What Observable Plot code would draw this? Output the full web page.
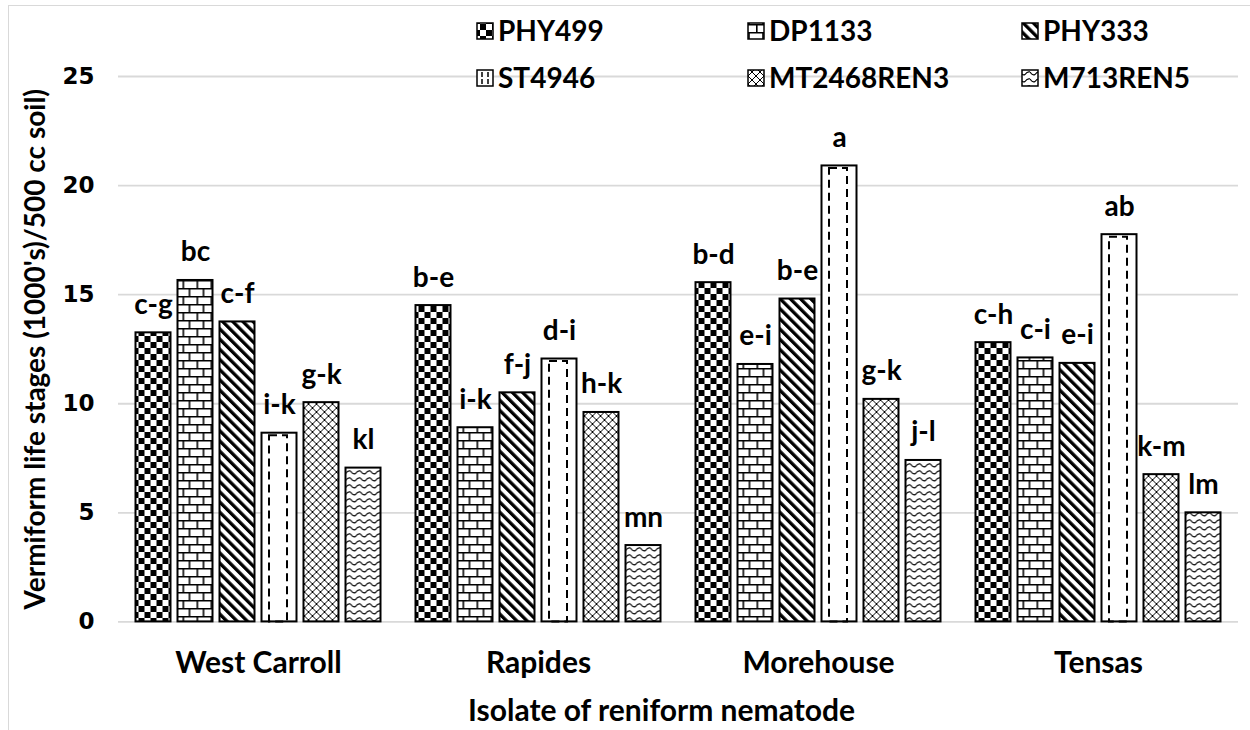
<!DOCTYPE html>
<html>
<head>
<meta charset="utf-8">
<script src="https://cdn.jsdelivr.net/npm/d3@7"></script>
<script src="https://cdn.jsdelivr.net/npm/@observablehq/plot@0.6"></script>
<style>
  html, body { margin: 0; padding: 0; background: #fff; }
  #wrap { position: relative; width: 1250px; height: 730px; overflow: hidden; background: #fff; }
  #border { position: absolute; left: 8px; top: 5px; width: 1400px; height: 900px; border: 1.5px solid #d9d9d9; pointer-events: none; }
  #legend { position: absolute; left: 0; top: 0; }
  g[aria-label="y-axis label"] text { font-family: Lato, sans-serif; font-size: 28px; font-weight: bold; }
  g[aria-label="fx-axis label"] text { font-family: Lato, sans-serif; font-size: 30px; font-weight: bold; }
</style>
</head>
<body>
<div id="wrap">
  <svg id="defs" width="0" height="0" style="position:absolute">
    <defs>
      <pattern id="pat0" patternUnits="userSpaceOnUse" width="12" height="12">
        <rect width="12" height="12" fill="#fff"/>
        <rect x="0" y="0" width="6" height="6" fill="#000"/>
        <rect x="6" y="6" width="6" height="6" fill="#000"/>
      </pattern>
      <pattern id="pat1" patternUnits="userSpaceOnUse" width="14" height="16">
        <rect width="14" height="16" fill="#fff"/>
        <path d="M0,0.8H14M0,8.8H14M7,0V8.8M0.8,8.8V16" stroke="#000" stroke-width="1.6" fill="none"/>
      </pattern>
      <pattern id="pat2" patternUnits="userSpaceOnUse" width="7.2" height="7.2" patternTransform="rotate(-45)">
        <rect width="7.2" height="7.2" fill="#fff"/>
        <rect x="0" y="0" width="3.3" height="7.2" fill="#000"/>
      </pattern>
      <pattern id="pat3" patternUnits="userSpaceOnUse" width="10" height="10">
        <rect width="10" height="10" fill="#fff"/>
      </pattern>
      <pattern id="pat4" patternUnits="userSpaceOnUse" width="8" height="8">
        <rect width="8" height="8" fill="#fff"/>
        <path d="M0,0L8,8M8,0L0,8" stroke="#000" stroke-width="1" fill="none"/>
      </pattern>
      <pattern id="pat5" patternUnits="userSpaceOnUse" width="10" height="7">
        <rect width="10" height="7" fill="#fff"/>
        <path d="M0,2 Q2.5,6 5,4.5 Q7.5,1 10,2" stroke="#000" stroke-width="1.2" fill="none"/>
      </pattern>
    </defs>
  </svg>
  <div id="chart"></div>
  <svg id="legend" width="1250" height="110"></svg>
  <div id="border"></div>
</div>
<script>
// ---- data ----
const groups = ["West Carroll", "Rapides", "Morehouse", "Tensas"];
const cultivars = ["PHY499", "DP1133", "PHY333", "ST4946", "MT2468REN3", "M713REN5"];

const westCarroll = [13.25, 15.65, 13.75, 8.65, 10.05, 7.05];
const rapides     = [14.5, 8.9, 10.5, 12.05, 9.6, 3.5];
const morehouse   = [15.55, 11.8, 14.8, 20.9, 10.2, 7.4];
const tensas      = [12.8, 12.1, 11.85, 17.75, 6.75, 5.0];

const westCarrollLetters = ["c-g", "bc", "c-f", "i-k", "g-k", "kl"];
const rapidesLetters     = ["b-e", "i-k", "f-j", "d-i", "h-k", "mn"];
const morehouseLetters   = ["b-d", "e-i", "b-e", "a", "g-k", "j-l"];
const tensasLetters      = ["c-h", "c-i", "e-i", "ab", "k-m", "lm"];

const yTicks = [0, 5, 10, 15, 20, 25];
const yTitle = "Vermiform life stages (1000's)/500 cc soil)";
const xTitle = "Isolate of reniform nematode";

// ---- table ----
const valuesByGroup = [westCarroll, rapides, morehouse, tensas];
const lettersByGroup = [westCarrollLetters, rapidesLetters, morehouseLetters, tensasLetters];
const rows = [];
groups.forEach((g, gi) => {
  cultivars.forEach((c, ci) => {
    rows.push({group: g, cultivar: c, value: valuesByGroup[gi][ci], letter: lettersByGroup[gi][ci]});
  });
});
const patternUrls = cultivars.map((d, i) => `url(#pat${i})`);
const dashedRows = rows.filter(d => d.cultivar === "ST4946");

const chart = Plot.plot({
  width: 1250,
  height: 730,
  marginLeft: 117.5,
  marginRight: 12,
  marginTop: 76,
  marginBottom: 108.6,
  style: {background: "transparent", overflow: "visible"},
  fx: {domain: groups, padding: 0},
  x: {domain: cultivars, paddingInner: 0.17, paddingOuter: 0.4, axis: null},
  y: {domain: [0, 25]},
  color: {domain: cultivars, range: patternUrls},
  marks: [
    Plot.gridY({ticks: yTicks, stroke: "#d9d9d9", strokeOpacity: 1, strokeWidth: 1.8}),
    Plot.barY(rows, {fx: "group", x: "cultivar", y: "value", fill: "cultivar", stroke: "#000", strokeWidth: 2}),
    // two vertical dashed lines inside the ST4946 bars (sides of an inset dashed outline)
    Plot.barY(dashedRows, {fx: "group", x: "cultivar", y: "value", insetLeft: 7.5, insetRight: 9.5,
      insetTop: 2.5, fill: "none", stroke: "#000", strokeWidth: 2, strokeDasharray: "8 5"}),
    Plot.text(rows, {fx: "group", x: "cultivar", y: "value", text: "letter", dy: -19, lineAnchor: "bottom",
      fontSize: 28, fontWeight: "bold", fontFamily: "Lato, sans-serif", fill: "#000"}),
    Plot.axisY({ticks: yTicks, tickSize: 0, tickPadding: 24, fontSize: 23, fontWeight: "bold",
      fontFamily: "DejaVu Sans, sans-serif", label: yTitle, labelArrow: "none", labelAnchor: "center",
      labelOffset: 93, color: "#000"}),
    Plot.axisFx({anchor: "bottom", tickSize: 0, tickPadding: 30, fontSize: 30, fontWeight: "bold",
      fontFamily: "Lato, sans-serif", label: xTitle, labelArrow: "none", labelAnchor: "center",
      labelOffset: 98.6, color: "#000"})
  ]
});
document.getElementById("chart").appendChild(chart);
d3.select(chart).selectAll('g[aria-label="fx-axis label"] text').attr("dx", -17);

// ---- legend ----
const legend = d3.select("#legend");
const colX = [477, 748, 1022];
const rowY = [23, 70];
const rowBase = [41, 88];
cultivars.forEach((c, i) => {
  const col = i % 3, row = Math.floor(i / 3);
  const x0 = colX[col], y0 = rowY[row];
  legend.append("rect")
    .attr("x", x0).attr("y", y0).attr("width", 16).attr("height", 16)
    .attr("fill", patternUrls[i]).attr("stroke", "#000").attr("stroke-width", 1.5);
  if (c === "ST4946") {
    [5, 11].forEach(off => legend.append("line")
      .attr("x1", x0 + off).attr("x2", x0 + off).attr("y1", y0 + 2).attr("y2", y0 + 14)
      .attr("stroke", "#000").attr("stroke-width", 1.5).attr("stroke-dasharray", "5 2"));
  }
  legend.append("text")
    .attr("x", x0 + 21).attr("y", rowBase[row])
    .attr("font-family", "Lato, sans-serif").attr("font-weight", "bold").attr("font-size", 28)
    .attr("fill", "#000")
    .text(c);
});
</script>
</body>
</html>
